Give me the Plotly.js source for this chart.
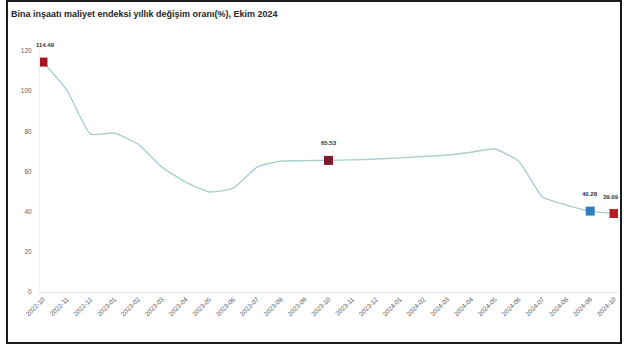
<!DOCTYPE html>
<html>
<head>
<meta charset="utf-8">
<script src="https://cdn.plot.ly/plotly-3.0.1.min.js"></script>
<style>
  html, body { margin: 0; padding: 0; background: #fff; }
  #wrap { position: relative; width: 624px; height: 351px; overflow: hidden; }
  #chart { position: absolute; left: 0; top: 0; width: 624px; height: 351px; }
  #frame { position: absolute; left: 6px; top: 0px; width: 612px; height: 340px; border: 2px solid #1a1a1a; pointer-events: none; }
</style>
</head>
<body>
<div id="wrap">
  <div id="chart"></div>
  <div id="frame"></div>
</div>
<script>
// Months (tick labels)
const months = ["2022-10","2022-11","2022-12","2023-01","2023-02","2023-03","2023-04","2023-05",
  "2023-06","2023-07","2023-08","2023-09","2023-10","2023-11","2023-12","2024-01","2024-02",
  "2024-03","2024-04","2024-05","2024-06","2024-07","2024-08","2024-09","2024-10"];
// Annual change (%)
const annualChange = [114.49,100.5,78.6,79.1,73.6,62.2,54.7,49.8,51.7,62.2,65.2,65.4,65.53,
  65.8,66.2,66.8,67.5,68.2,69.6,71.2,65.0,47.3,43.3,40.28,39.09];
// Highlighted points
const highlightMonths = ["2022-10","2023-10","2024-09","2024-10"];
const highlightColors = ["#a8141f","#7e1a2e","#2e7fbf","#b81c1c"];

const hlValues = highlightMonths.map(m => annualChange[months.indexOf(m)]);
const hlText = hlValues.map(v => v.toFixed(2));

const lineTrace = {
  x: months, y: annualChange, type: "scatter", mode: "lines",
  line: { color: "#a9cfcf", width: 1.4, shape: "spline", smoothing: 0.5 },
  hoverinfo: "x+y", showlegend: false
};
const markTrace = {
  x: highlightMonths, y: hlValues, type: "scatter", mode: "markers",
  marker: { symbol: "square", size: 9, color: highlightColors },
  showlegend: false
};

const labelFont = { family: "Liberation Sans, Arial, sans-serif", size: 6, color: "#333333", weight: "bold" };
const xShifts = [2, 0, 0, -3];
const annotations = highlightMonths.map((m, i) => ({
  x: m, y: hlValues[i], xref: "x", yref: "y", text: hlText[i],
  showarrow: false, yshift: 17, xshift: xShifts[i], font: labelFont
}));

const layout = {
  width: 624, height: 351,
  margin: { l: 40, r: 6, t: 47, b: 59 },
  paper_bgcolor: "#ffffff", plot_bgcolor: "#ffffff",
  title: {
    text: "<b>Bina inşaatı maliyet endeksi yıllık değişim oranı(%), Ekim 2024</b>",
    x: 11/624, xanchor: "left", xref: "container", y: 1 - 14/351, yref: "container", yanchor: "middle",
    font: { family: "Liberation Sans, Arial, sans-serif", size: 9, color: "#262626" }
  },
  annotations: annotations,
  xaxis: {
    type: "category", range: [-0.126, 24.168],
    tickangle: -45, showgrid: false, zeroline: false,
    showline: true, linecolor: "#e6e6e6", linewidth: 1,
    ticks: "", tickfont: { family: "Liberation Sans, Arial, sans-serif", size: 6.5, color: "#5e5e5e" }
  },
  yaxis: {
    range: [0, 122], tickvals: [0,20,40,60,80,100,120], showgrid: false, zeroline: false,
    showline: true, linecolor: "#f0f0f0", linewidth: 1, ticklabelstandoff: 6,
    ticks: "", tickfont: { family: "Liberation Sans, Arial, sans-serif", size: 6.5, color: "#5e5e5e" }
  },
  showlegend: false
};

Plotly.newPlot("chart", [lineTrace, markTrace], layout, { displayModeBar: false, staticPlot: true });
</script>
</body>
</html>
